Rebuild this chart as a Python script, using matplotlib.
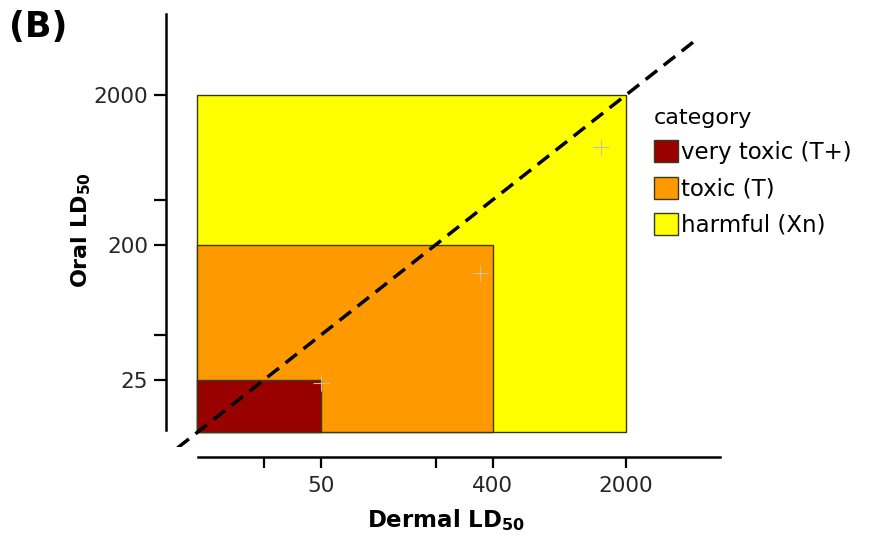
import matplotlib
matplotlib.use("Agg")
import matplotlib.pyplot as plt
from matplotlib.patches import Rectangle, Patch

plt.rcParams['font.family'] = ['DejaVu Sans']
plt.rcParams['mathtext.fontset'] = 'custom'
plt.rcParams['mathtext.rm'] = 'DejaVu Sans:bold'
plt.rcParams['mathtext.bf'] = 'DejaVu Sans:bold'

# category boxes: (dermal upper limit, oral upper limit)
categories = ['harmful (Xn)', 'toxic (T)', 'very toxic (T+)']
dermal_limits = [2000, 400, 50]
oral_limits = [2000, 200, 25]
colors = ['#ffff00', '#ff9900', '#990000']
box_start = 11.2

# faint points
pt_dermal = [1470, 344, 50]
pt_oral = [900, 130, 24]

x_ticks = [25, 50, 200, 400, 2000]
x_labels = ['', '50', '', '400', '2000']
y_ticks = [25, 50, 200, 400, 2000]
y_labels = ['25', '', '200', '', '2000']

W, H = 870, 536
fig = plt.figure(figsize=(W / 100, H / 100), dpi=100)
l, r, t, b = 172, 720, 14, 447
ax = fig.add_axes([l / W, (H - b) / H, (r - l) / W, (b - t) / H])
ax.set_xscale('log')
ax.set_yscale('log')
ax.set_xlim(8.24, 6240)
ax.set_ylim(8.93, 6950)

for c, dx, oy in zip(colors, dermal_limits, oral_limits):
    ax.add_patch(Rectangle((box_start, box_start), dx - box_start, oy - box_start,
                           facecolor=c, edgecolor='#3a3a1a', linewidth=1.0, zorder=1))

ax.plot(pt_dermal, pt_oral, '+', color='#c9c0a0', markersize=11, markeredgewidth=0.8, zorder=2)

ax.plot([8.8, 4500], [8.8, 4500], color='black', linestyle=(0, (4.2, 2.4)), linewidth=2.5, zorder=3)

for s in ['top', 'right']:
    ax.spines[s].set_visible(False)
ax.spines['left'].set_position(('outward', 4.3))
ax.spines['bottom'].set_position(('outward', 7.2))
ax.spines['left'].set_bounds(11.6, 6950)
ax.spines['bottom'].set_bounds(11.3, 6240)
for s in ['left', 'bottom']:
    ax.spines[s].set_linewidth(1.8)

ax.set_xticks(x_ticks)
ax.set_xticklabels(x_labels)
ax.set_yticks(y_ticks)
ax.set_yticklabels(y_labels)
ax.minorticks_off()
ax.tick_params(axis='both', width=1.6, labelsize=15.5, colors='black',
               labelcolor='#262626')
ax.tick_params(axis='y', length=9, pad=4)
ax.tick_params(axis='x', length=8, pad=6)

ax.set_xlabel(r'Dermal LD$_{50}$', fontsize=16.5, fontweight='bold', labelpad=8)
ax.set_ylabel(r'Oral LD$_{50}$', fontsize=16, fontweight='bold', labelpad=0)

fig.text(9 / W, 1 - 27 / H, '(B)', fontsize=25, fontweight='bold', va='center', ha='left')

handles = [Patch(facecolor=c, edgecolor='#3a3a1a', linewidth=1.0) for c in colors[::-1]]
leg = fig.legend(handles, categories[::-1], title='category', loc='upper left',
                 bbox_to_anchor=(640 / W, 1 - 94 / H), frameon=False, fontsize=16.5,
                 title_fontsize=16, handlelength=1.05, handleheight=1.1,
                 handletextpad=0.15, labelspacing=0.55, borderpad=0.1,
                 alignment='left')

fig.savefig('out.png', dpi=100)
